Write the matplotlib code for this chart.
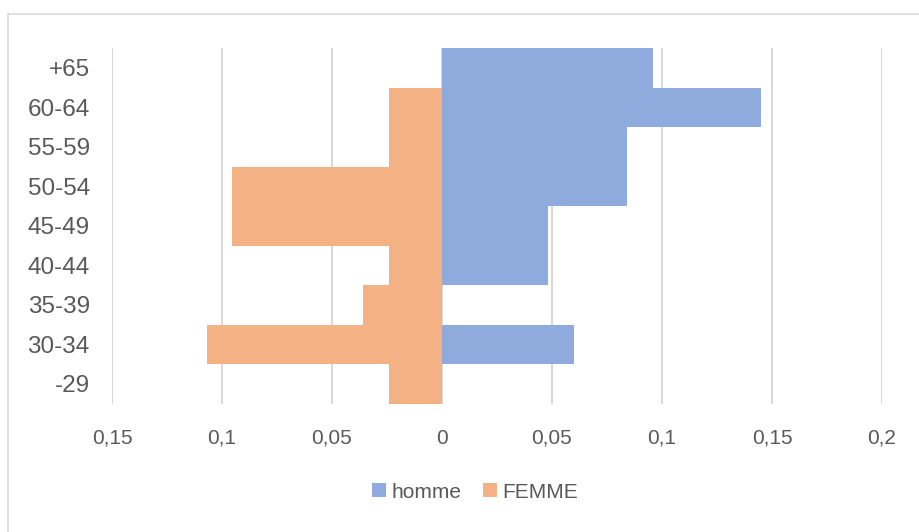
import matplotlib
matplotlib.use("Agg")
import matplotlib.pyplot as plt
from matplotlib.patches import Rectangle
from matplotlib.ticker import FuncFormatter

categories = ["-29", "30-34", "35-39", "40-44", "45-49", "50-54", "55-59", "60-64", "+65"]
homme = [0.0, 0.060, 0.0, 0.048, 0.048, 0.084, 0.084, 0.145, 0.096]
femme = [0.024, 0.107, 0.036, 0.024, 0.0955, 0.0955, 0.024, 0.024, 0.0]
xticks = [-0.15, -0.1, -0.05, 0, 0.05, 0.1, 0.15, 0.2]

plt.rcParams['font.family'] = ['Liberation Sans', 'DejaVu Sans']
text_col = '#595959'

fig = plt.figure(figsize=(9.2, 5.32), dpi=100)
ax = fig.add_axes([112/920, 1-403.5/532, (882-112)/920, (403.5-48)/532])

y = range(len(categories))
ax.barh(y, homme, height=1.0, color='#8FAADC', linewidth=0, label='homme', zorder=3)
ax.barh(y, [-v for v in femme], height=1.0, color='#F4B183', linewidth=0, label='FEMME', zorder=3)

ax.set_xlim(-0.15, 0.2)
ax.set_ylim(-0.5, len(categories) - 0.5)
ax.set_xticks(xticks)
ax.xaxis.set_major_formatter(FuncFormatter(lambda v, p: f"{abs(v):g}".replace('.', ',')))
ax.set_yticks(list(y))
ax.set_yticklabels(categories)
ax.grid(axis='x', color='#D9D9D9', linewidth=1.5, zorder=0)
ax.set_axisbelow(True)
for s in ax.spines.values():
    s.set_visible(False)
ax.tick_params(axis='both', length=0, colors=text_col)
ax.tick_params(axis='y', labelsize=17.5, pad=16)
ax.tick_params(axis='x', labelsize=15, pad=18)

leg = fig.legend(loc='center', bbox_to_anchor=(475/920, 1-492/532), ncol=2, frameon=False,
                 fontsize=15, handlelength=0.65, handleheight=0.65, handletextpad=0.25, columnspacing=1.05)
for t in leg.get_texts():
    t.set_color(text_col)

fig.patches.append(Rectangle((8/920, -0.01), 1.0, 1 - 13.5/532 + 0.01, transform=fig.transFigure,
                             fill=False, edgecolor='#D9D9D9', linewidth=1.2))

fig.savefig('out.png', dpi=100)
